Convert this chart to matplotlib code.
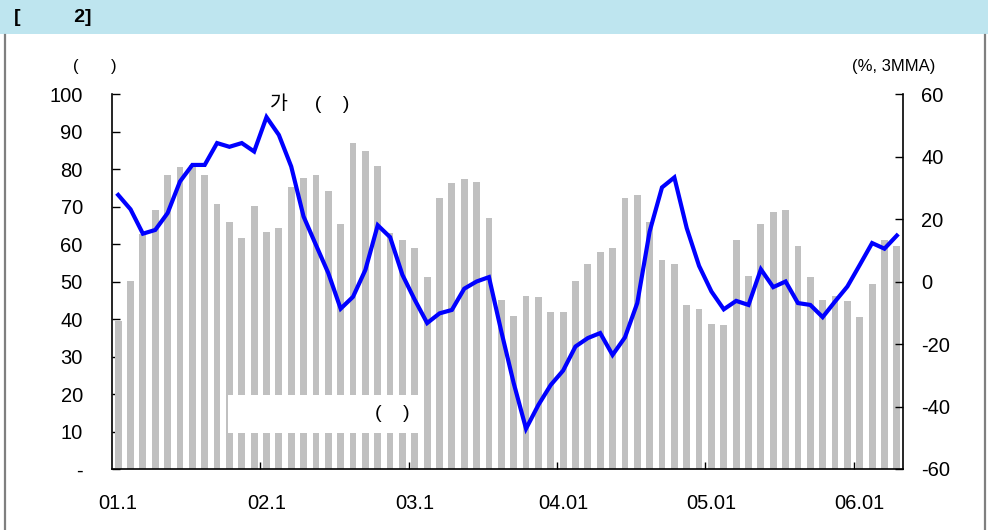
import matplotlib
matplotlib.use("Agg")
import matplotlib.pyplot as plt
from matplotlib.patches import Rectangle
from matplotlib.lines import Line2D
import numpy as np

plt.rcParams['font.family'] = ['Liberation Sans', 'Noto Sans CJK KR']

# monthly data, 2001.1 - 2006.4
bars = [39.6, 50.1, 62.7, 69.1, 78.5, 80.6, 81.0, 78.5, 70.8, 66.0,
        61.6, 70.1, 63.3, 64.3, 75.2, 77.7, 78.4, 74.1, 65.3, 86.9,
        84.8, 80.8, 63.0, 61.1, 58.9, 51.2, 72.3, 76.3, 77.3, 76.5,
        66.9, 45.1, 40.8, 46.1, 45.9, 41.9, 41.9, 50.1, 54.7, 57.9,
        58.9, 72.3, 73.1, 65.9, 55.7, 54.7, 43.7, 42.7, 38.7, 38.4,
        61.1, 51.5, 65.3, 68.5, 69.1, 59.5, 51.2, 45.1, 46.1, 44.8,
        40.5, 49.3, 61.1, 59.5]
growth = [27.7, 23.1, 15.3, 16.5, 21.9, 32.0, 37.3, 37.3, 44.3, 43.1,
          44.3, 41.6, 52.6, 46.9, 36.8, 20.8, 11.7, 2.7, -8.7, -4.9,
          3.7, 18.0, 14.2, 2.1, -5.9, -13.3, -10.2, -9.1, -2.3, 0.0,
          1.4, -16.0, -32.5, -47.1, -39.5, -33.1, -28.5, -20.8, -18.1, -16.5,
          -23.5, -17.9, -6.9, 16.0, 30.1, 33.3, 17.1, 5.0, -3.2, -8.9,
          -6.2, -7.5, 3.9, -1.8, 0.0, -6.9, -7.5, -11.4, -6.4, -1.6,
          5.3, 12.3, 10.5, 14.7]
xlabels = ["01.1", "02.1", "03.1", "04.01", "05.01", "06.01"]
left_ticks = [0, 10, 20, 30, 40, 50, 60, 70, 80, 90, 100]
right_ticks = [-60, -40, -20, 0, 20, 40, 60]

W, H = 988, 530
fig = plt.figure(figsize=(W / 100, H / 100), dpi=100)

# header band and frame
fig.patches.append(Rectangle((0, 1 - 34 / H), 1, 34 / H, transform=fig.transFigure,
                             facecolor='#BEE5EF', edgecolor='none'))
fig.lines.append(Line2D([5 / W, 5 / W], [0, 1 - 35 / H], transform=fig.transFigure,
                        color='#7f7f7f', lw=1.6))
fig.lines.append(Line2D([985 / W, 985 / W], [0, 1 - 35 / H], transform=fig.transFigure,
                        color='#7f7f7f', lw=1.6))
fig.text(14 / W, 1 - 18 / H, "[          2]", fontsize=14, fontweight='bold', va='center')

ax = fig.add_axes([112 / W, 1 - 469 / H, (903 - 112) / W, (469 - 94) / H])
x = np.arange(len(bars))
ax.bar(x, bars, width=0.55, color='#C0C0C0', zorder=2)
ax.set_xlim(-0.5, len(bars) - 0.5)
ax.set_ylim(0, 100)
ax.set_yticks(left_ticks)
ax.set_yticklabels(['-' if v == 0 else str(v) for v in left_ticks])
ax.tick_params(axis='y', direction='in', length=6, width=1, pad=21, labelsize=14.5)

ax.set_xticks(x[::12])
ax.set_xticklabels(xlabels)
ax.set_xticks(np.arange(11.5, len(bars), 12), minor=True)
ax.tick_params(axis='x', which='major', length=0, pad=18, labelsize=14.5)
ax.tick_params(axis='x', which='minor', direction='in', length=5, width=1)
ax.spines['top'].set_visible(False)
ax.spines['right'].set_visible(False)
for s in ['left', 'bottom']:
    ax.spines[s].set_linewidth(1.2)

ax2 = ax.twinx()
ax2.plot(x, growth, color='#0000FF', lw=3.0, solid_joinstyle='miter', zorder=3)
ax2.set_ylim(-60, 60)
ax2.set_yticks(right_ticks)
ax2.set_yticklabels([str(v) for v in right_ticks])
ax2.tick_params(axis='y', direction='in', length=6, width=1, pad=13, labelsize=14.5)
ax2.spines['top'].set_visible(False)
ax2.spines['left'].set_visible(False)
ax2.spines['bottom'].set_visible(False)
ax2.spines['right'].set_linewidth(1.2)

# unit labels
fig.text(73 / W, 1 - 66 / H, "(       )", fontsize=12, va='center')
fig.text(935 / W, 1 - 66 / H, "(%, 3MMA)", fontsize=12, va='center', ha='right')
fig.text(270 / W, 1 - 103 / H, "가     (    )", fontsize=14, va='center')

# legend box
ax.add_patch(Rectangle((228 / W, 1 - 433 / H), 190 / W, 38 / H, transform=fig.transFigure,
                       facecolor='white', edgecolor='none', zorder=4))
fig.text(410 / W, 1 - 414 / H, "(    )", fontsize=14, va='center', ha='right', zorder=5)

fig.savefig("out.png", dpi=100)
